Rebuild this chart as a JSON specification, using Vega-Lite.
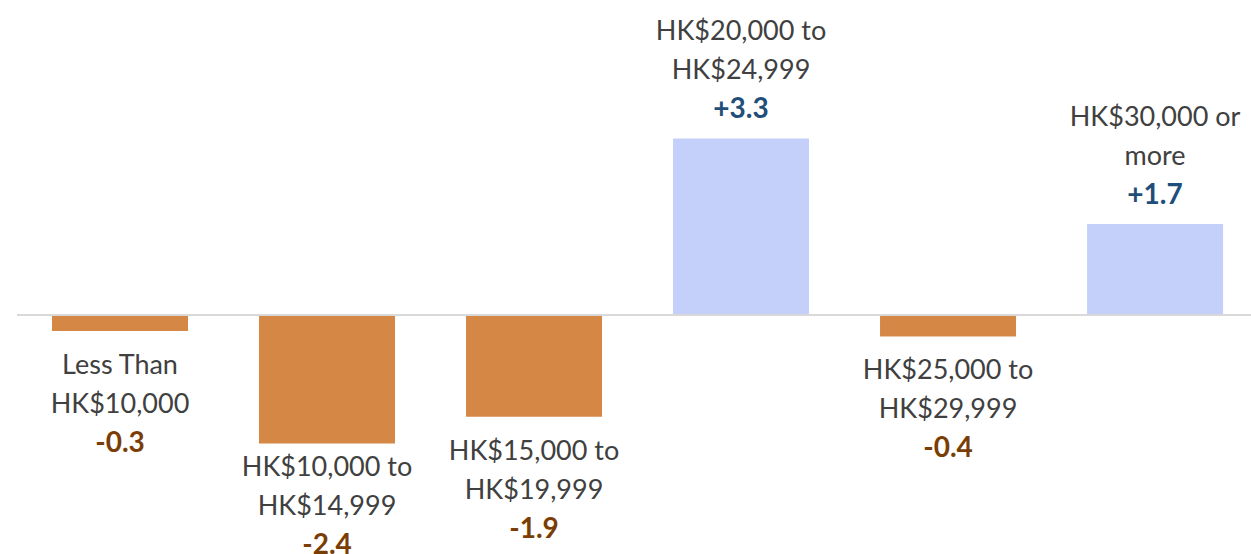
{
  "$schema": "https://vega.github.io/schema/vega-lite/v6.json",
  "width": 1234,
  "height": 554,
  "autosize": {"type": "none"},
  "padding": {"left": 17, "top": 0, "right": 0, "bottom": 0},
  "background": "white",
  "config": {"view": {"stroke": null}},
  "data": {"values": [
    {"cat": "Less Than HK$10,000", "label": "Less Than\nHK$10,000", "v": -0.3, "vlabel": "-0.3"},
    {"cat": "HK$10,000 to HK$14,999", "label": "HK$10,000 to\nHK$14,999", "v": -2.4, "vlabel": "-2.4"},
    {"cat": "HK$15,000 to HK$19,999", "label": "HK$15,000 to\nHK$19,999", "v": -1.9, "vlabel": "-1.9"},
    {"cat": "HK$20,000 to HK$24,999", "label": "HK$20,000 to\nHK$24,999", "v": 3.3, "vlabel": "+3.3"},
    {"cat": "HK$25,000 to HK$29,999", "label": "HK$25,000 to\nHK$29,999", "v": -0.4, "vlabel": "-0.4"},
    {"cat": "HK$30,000 or more", "label": "HK$30,000 or\nmore", "v": 1.7, "vlabel": "+1.7"}
  ]},
  "encoding": {
    "x": {"field": "cat", "type": "nominal", "sort": null,
          "scale": {"paddingInner": 0.343, "paddingOuter": 0.152, "align": 0.556},
          "axis": null},
    "y": {"field": "v", "type": "quantitative",
          "scale": {"domain": [-4.467, 5.888], "nice": false, "zero": false},
          "axis": null}
  },
  "layer": [
    {
      "mark": {"type": "bar"},
      "encoding": {
        "y2": {"datum": 0},
        "color": {"condition": {"test": "datum.v > 0", "value": "#C5D0FA"}, "value": "#D58746"}
      }
    },
    {
      "mark": {"type": "rule", "color": "#D9D9D9", "strokeWidth": 2},
      "encoding": {"x": {"value": 0}, "x2": {"value": 1234}, "y": {"datum": 0}}
    },
    {
      "transform": [{"filter": "datum.v > 0"}],
      "layer": [
        {"mark": {"type": "text", "font": "Lato", "fontSize": 27, "baseline": "middle", "align": "center", "dy": -106, "lineBreak": "\n", "lineHeight": 39, "color": "#404040"},
         "encoding": {"text": {"field": "label"}}},
        {"mark": {"type": "text", "font": "Lato", "fontSize": 28, "fontWeight": "bold", "baseline": "middle", "align": "center", "dy": -28, "color": "#1F4E79"},
         "encoding": {"text": {"field": "vlabel"}}}
      ]
    },
    {
      "transform": [{"filter": "datum.v < 0 && datum.v > -2"}],
      "layer": [
        {"mark": {"type": "text", "font": "Lato", "fontSize": 27, "baseline": "middle", "align": "center", "dy": 35, "lineBreak": "\n", "lineHeight": 39, "color": "#404040"},
         "encoding": {"text": {"field": "label"}}},
        {"mark": {"type": "text", "font": "Lato", "fontSize": 28, "fontWeight": "bold", "baseline": "middle", "align": "center", "dy": 113, "color": "#7A3E05"},
         "encoding": {"text": {"field": "vlabel"}}}
      ]
    },
    {
      "transform": [{"filter": "datum.v <= -2"}],
      "layer": [
        {"mark": {"type": "text", "font": "Lato", "fontSize": 27, "baseline": "middle", "align": "center", "dy": 25, "lineBreak": "\n", "lineHeight": 39, "color": "#404040"},
         "encoding": {"text": {"field": "label"}}},
        {"mark": {"type": "text", "font": "Lato", "fontSize": 28, "fontWeight": "bold", "baseline": "middle", "align": "center", "dy": 103, "color": "#7A3E05"},
         "encoding": {"text": {"field": "vlabel"}}}
      ]
    }
  ]
}
